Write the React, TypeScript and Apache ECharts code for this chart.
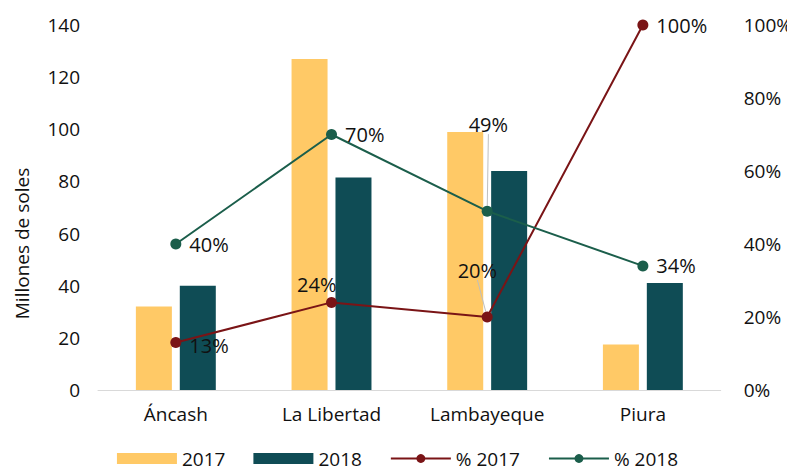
import React, { useEffect, useRef } from "react";
import * as echarts from "echarts";

const categories = ["Áncash", "La Libertad", "Lambayeque", "Piura"];
const values2017 = [32, 127, 99, 17.5];
const values2018 = [40, 81.5, 84, 41];
const pct2017 = [13, 24, 20, 100];
const pct2018 = [40, 70, 49, 34];
const leftTicks = { min: 0, max: 140, interval: 20 };
const rightTicks = { min: 0, max: 100, interval: 20 };

const FONT = "'Open Sans', Roboto, sans-serif";

export default function App() {
  const ref = useRef<HTMLDivElement>(null);
  useEffect(() => {
    if (!ref.current) return;
    const chart = echarts.init(ref.current, null, { renderer: "svg" });
    const labelBase = {
      show: true,
      color: "#111",
      fontSize: 20,
      fontFamily: FONT,
      formatter: (p: any) => p.value + "%",
    };
    const withGuides = (vals: number[], guided: number[]) =>
      vals.map((v, i) => ({
        value: v,
        labelLine: { show: guided.indexOf(i) >= 0 },
      }));
    chart.setOption({
      animation: false,
      textStyle: { fontFamily: FONT },
      grid: { left: 98, right: 73, top: 25, bottom: 85 },
      legend: {
        bottom: 2,
        left: "center",
        itemGap: 28,
        textStyle: { fontSize: 19, color: "#111", fontFamily: FONT },
        data: [
          { name: "2017", icon: "rect" },
          { name: "2018", icon: "rect" },
          { name: "% 2017" },
          { name: "% 2018" },
        ],
        itemWidth: 60,
        itemHeight: 11,
      },
      xAxis: {
        type: "category",
        data: categories,
        axisLine: { lineStyle: { color: "#d9d9d9" } },
        axisTick: { show: false },
        axisLabel: { fontSize: 19, color: "#111", margin: 14, fontFamily: FONT },
      },
      yAxis: [
        {
          type: "value",
          ...leftTicks,
          name: "Millones de soles",
          nameLocation: "middle",
          nameGap: 67,
          nameTextStyle: {
            fontSize: 19,
            color: "#111",
            fontFamily: FONT,
            padding: [0, 72, 0, 0],
          },
          splitLine: { show: false },
          axisLabel: { fontSize: 19, color: "#111", margin: 18, fontFamily: FONT },
        },
        {
          type: "value",
          ...rightTicks,
          splitLine: { show: false },
          axisLabel: {
            fontSize: 19,
            color: "#111",
            margin: 23,
            fontFamily: FONT,
            formatter: (v: number) => v + "%",
          },
        },
      ],
      series: [
        {
          name: "2017",
          type: "bar",
          data: values2017,
          barWidth: 36,
          barGap: "22%",
          itemStyle: { color: "#FFC966" },
        },
        {
          name: "2018",
          type: "bar",
          data: values2018,
          barWidth: 36,
          itemStyle: { color: "#0F4C55" },
        },
        {
          name: "% 2017",
          type: "line",
          yAxisIndex: 1,
          data: withGuides(pct2017, [2]),
          symbol: "circle",
          symbolSize: 11,
          lineStyle: { color: "#7A1416", width: 2 },
          itemStyle: { color: "#7A1416" },
          label: { ...labelBase, position: "right", distance: 8 },
          labelLine: { show: false, smooth: false, lineStyle: { color: "#bfbfbf", width: 1 } },
          labelLayout: (p: any) => {
            if (p.dataIndex === 0) return { dy: 3 };
            if (p.dataIndex === 1) return { dx: -48, dy: -18 };
            if (p.dataIndex === 2) return { dx: -43, dy: -47 };
            return {};
          },
        },
        {
          name: "% 2018",
          type: "line",
          yAxisIndex: 1,
          data: withGuides(pct2018, [2]),
          symbol: "circle",
          symbolSize: 11,
          lineStyle: { color: "#1B5E4B", width: 2 },
          itemStyle: { color: "#1B5E4B" },
          label: { ...labelBase, position: "right", distance: 8 },
          labelLine: { show: false, smooth: false, lineStyle: { color: "#bfbfbf", width: 1 } },
          labelLayout: (p: any) => {
            if (p.dataIndex === 2) return { dx: -32, dy: -87 };
            return {};
          },
        },
      ],
    });
    return () => chart.dispose();
  }, []);
  return <div ref={ref} style={{ width: 795, height: 475, margin: -8 }} />;
}
